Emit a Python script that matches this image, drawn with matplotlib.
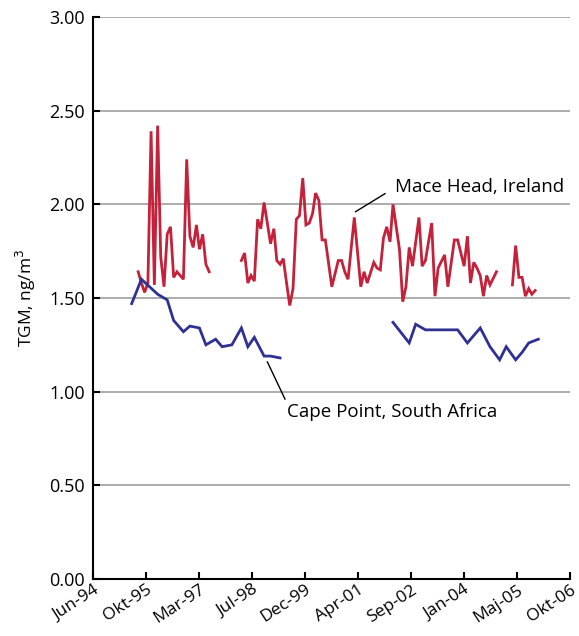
import datetime as dt
import matplotlib
matplotlib.use("Agg")
import matplotlib.pyplot as plt

# Mace Head, Ireland (monthly TGM, ng/m3) - three pieces with gaps
mace_dates_1 = ["1995-08", "1995-09", "1995-10", "1995-11", "1995-12", "1996-01",
                "1996-02", "1996-03", "1996-04", "1996-05", "1996-06", "1996-07",
                "1996-08", "1996-09", "1996-10", "1996-11", "1996-12", "1997-01",
                "1997-02", "1997-03", "1997-04", "1997-05", "1997-06"]
mace_vals_1 = [1.64, 1.58, 1.53, 1.58, 2.39, 1.57, 2.42, 1.72, 1.56, 1.84, 1.88, 1.61,
               1.64, 1.62, 1.60, 2.24, 1.83, 1.77, 1.89, 1.76, 1.84, 1.68, 1.64]

mace_dates_2 = ["1998-04", "1998-05", "1998-06", "1998-07", "1998-08", "1998-09",
                "1998-10", "1998-11", "1999-01", "1999-02", "1999-03", "1999-04",
                "1999-05", "1999-06", "1999-07", "1999-08", "1999-09", "1999-10",
                "1999-11", "1999-12", "2000-01", "2000-02", "2000-03", "2000-04",
                "2000-05", "2000-06", "2000-08", "2000-10", "2000-11", "2000-12",
                "2001-01", "2001-03", "2001-05", "2001-06", "2001-07", "2001-09",
                "2001-10", "2001-11", "2001-12", "2002-01", "2002-02", "2002-03",
                "2002-05", "2002-06", "2002-07", "2002-08", "2002-09", "2002-11",
                "2002-12", "2003-01", "2003-03", "2003-04", "2003-05", "2003-07",
                "2003-08", "2003-10", "2003-11", "2004-01", "2004-02", "2004-03",
                "2004-04", "2004-05", "2004-06", "2004-07", "2004-08", "2004-09",
                "2004-11"]
mace_vals_2 = [1.70, 1.74, 1.58, 1.62, 1.59, 1.92, 1.87, 2.01, 1.79, 1.87, 1.70, 1.68,
               1.71, 1.58, 1.46, 1.55, 1.92, 1.94, 2.14, 1.89, 1.90, 1.95, 2.06, 2.02,
               1.81, 1.81, 1.56, 1.70, 1.70, 1.64, 1.60, 1.93, 1.56, 1.64, 1.58, 1.69,
               1.66, 1.65, 1.82, 1.88, 1.80, 2.00, 1.76, 1.48, 1.56, 1.77, 1.67, 1.93,
               1.67, 1.70, 1.90, 1.51, 1.66, 1.73, 1.56, 1.81, 1.81, 1.67, 1.83, 1.58,
               1.69, 1.66, 1.62, 1.51, 1.62, 1.57, 1.64]

mace_dates_3 = ["2005-04", "2005-05", "2005-06", "2005-07", "2005-08", "2005-09",
                "2005-10", "2005-11"]
mace_vals_3 = [1.57, 1.78, 1.61, 1.61, 1.51, 1.55, 1.52, 1.54]

# Cape Point, South Africa
cape_dates_1 = ["1995-06", "1995-09", "1996-02", "1996-05", "1996-07", "1996-10",
                "1996-12", "1997-03", "1997-05", "1997-08", "1997-10", "1998-01",
                "1998-04", "1998-06", "1998-08", "1998-11", "1999-01", "1999-04"]
cape_vals_1 = [1.47, 1.60, 1.52, 1.49, 1.38, 1.32, 1.35, 1.34, 1.25, 1.28, 1.24, 1.25,
               1.34, 1.24, 1.29, 1.19, 1.19, 1.18]

cape_dates_2 = ["2002-03", "2002-08", "2002-10", "2003-01", "2003-11", "2004-02",
                "2004-06", "2004-09", "2004-12", "2005-02", "2005-05", "2005-07",
                "2005-09", "2005-12"]
cape_vals_2 = [1.37, 1.26, 1.36, 1.33, 1.33, 1.26, 1.34, 1.24, 1.17, 1.24, 1.17, 1.21,
               1.26, 1.28]

x_tick_labels = ["Jun-94", "Okt-95", "Mar-97", "Jul-98", "Dec-99", "Apr-01",
                 "Sep-02", "Jan-04", "Maj-05", "Okt-06"]
y_ticks = [0.0, 0.5, 1.0, 1.5, 2.0, 2.5, 3.0]

RED = "#c4213a"
BLUE = "#2e3192"


def to_dates(strings):
    return [dt.datetime.strptime(s + "-15", "%Y-%m-%d") for s in strings]


plt.rcParams["font.family"] = ["Open Sans", "DejaVu Sans"]

fig = plt.figure(figsize=(5.79, 6.36), dpi=100)
ax = fig.add_axes([0.1606, 0.0896, 0.8239, 0.8837])

for d, v in [(mace_dates_1, mace_vals_1), (mace_dates_2, mace_vals_2),
             (mace_dates_3, mace_vals_3)]:
    ax.plot(to_dates(d), v, color=RED, lw=2.0, solid_joinstyle="miter", zorder=3)
for d, v in [(cape_dates_1, cape_vals_1), (cape_dates_2, cape_vals_2)]:
    ax.plot(to_dates(d), v, color=BLUE, lw=2.0, solid_joinstyle="miter", zorder=3)

start = dt.datetime(1994, 6, 15)
ticks = [start + dt.timedelta(days=500 * i) for i in range(len(x_tick_labels))]
ax.set_xlim(ticks[0], ticks[-1])
ax.set_xticks(ticks)
ax.set_xticklabels(x_tick_labels, rotation=33, ha="right", rotation_mode="anchor")

ax.set_ylim(0, 3.0)
ax.set_yticks(y_ticks)
ax.set_yticklabels(["%.2f" % t for t in y_ticks])
ax.set_ylabel("TGM, ng/m$^3$", fontsize=12.5, labelpad=8)

ax.grid(axis="y", color="#a6a6a6", lw=1.3)
ax.set_axisbelow(True)
for side in ["top", "right"]:
    ax.spines[side].set_visible(False)
for side in ["left", "bottom"]:
    ax.spines[side].set_linewidth(1.5)
ax.tick_params(direction="in", length=5, width=1.5, labelsize=13, pad=6)
ax.tick_params(axis="x", pad=2, labelsize=12.5)
for lbl in ax.get_xticklabels():
    lbl.set_x(lbl.get_position()[0])

# annotations
mace_pt = to_dates(["2001-03"])[0]
ax.annotate("Mace Head, Ireland", xy=(mace_pt + dt.timedelta(days=10), 1.96),
            xytext=(start + dt.timedelta(days=2850), 2.09),
            fontsize=13.5, va="center", ha="left",
            arrowprops=dict(arrowstyle="-", color="black", lw=1,
                            shrinkA=6, shrinkB=0, relpos=(0, 0.5)))
cape_pt = to_dates(["1998-12"])[0]
ax.annotate("Cape Point, South Africa", xy=(cape_pt, 1.16),
            xytext=(start + dt.timedelta(days=1830), 0.89),
            fontsize=13.5, va="center", ha="left",
            arrowprops=dict(arrowstyle="-", color="black", lw=1,
                            shrinkA=1, shrinkB=0, relpos=(0, 1.0)))

fig.savefig("out.png", dpi=100)
